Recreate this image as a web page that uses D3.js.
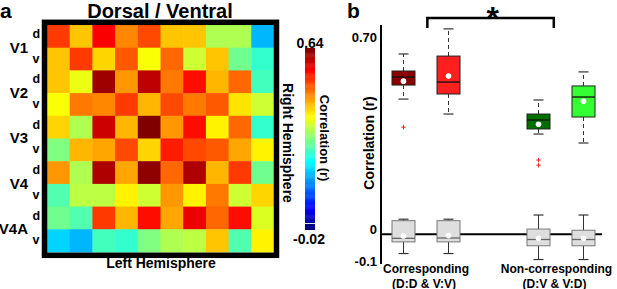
<!DOCTYPE html>
<html>
<head>
<meta charset="utf-8">
<script src="https://cdn.jsdelivr.net/npm/d3@7"></script>
<style>
  html, body { margin: 0; padding: 0; background: #fff; }
  svg { display: block; font-family: "Liberation Sans", Arial, Helvetica, sans-serif; font-weight: bold; }
</style>
</head>
<body>
<svg id="chart" width="617" height="289"></svg>
<script>
// ---------- DATA ----------
const areaLabels = ["V1", "V2", "V3", "V4", "V4A"];
const subLabels = ["d", "v"];
// rows: right hemisphere (V1d ... V4Av), columns: left hemisphere
const heatRows = [
  [0.52, 0.43, 0.56, 0.47, 0.51, 0.43, 0.43, 0.34, 0.34, 0.18],
  [0.43, 0.52, 0.42, 0.50, 0.39, 0.49, 0.36, 0.43, 0.30, 0.26],
  [0.43, 0.38, 0.62, 0.46, 0.60, 0.48, 0.55, 0.44, 0.49, 0.27],
  [0.39, 0.48, 0.47, 0.52, 0.44, 0.51, 0.48, 0.50, 0.41, 0.36],
  [0.42, 0.34, 0.59, 0.44, 0.64, 0.46, 0.55, 0.40, 0.49, 0.26],
  [0.31, 0.44, 0.45, 0.51, 0.42, 0.54, 0.51, 0.50, 0.45, 0.40],
  [0.46, 0.34, 0.61, 0.45, 0.63, 0.49, 0.61, 0.44, 0.52, 0.30],
  [0.28, 0.35, 0.35, 0.40, 0.36, 0.46, 0.40, 0.48, 0.36, 0.42],
  [0.30, 0.28, 0.52, 0.44, 0.55, 0.45, 0.57, 0.49, 0.55, 0.37],
  [0.20, 0.18, 0.27, 0.26, 0.31, 0.34, 0.35, 0.43, 0.28, 0.40]
];
const colorMin = -0.02, colorMax = 0.64;
const colorTickLabels = ["-0.02", "0.64"];

const groupNames = ["Corresponding", "Non-corresponding"];
const groupSubNames = ["(D:D & V:V)", "(D:V & V:D)"];
const groupPos = [1.5, 4.4];
const conditions = ["D:D", "V:V", "D:V", "V:D"];
const condPos = [1, 2, 4, 5];
const condColors = ["#8c0000", "#ff1f1f", "#006e00", "#33ff33"];
// coloured boxes (real pairings)
const boxLow    = [0.452, 0.402, 0.335, 0.305];
const boxQ1     = [0.499, 0.469, 0.352, 0.392];
const boxMedian = [0.526, 0.509, 0.382, 0.459];
const boxQ3     = [0.546, 0.596, 0.402, 0.496];
const boxHigh   = [0.603, 0.687, 0.449, 0.543];
const boxMean   = [0.512, 0.529, 0.368, 0.445];
const boxOutliers = [[0.358], [], [0.248, 0.231], []];
// grey boxes (baseline)
const greyLow    = [-0.065, -0.065, -0.085, -0.085];
const greyQ1     = [-0.026, -0.026, -0.039, -0.039];
const greyMedian = [-0.014, -0.013, -0.018, -0.018];
const greyQ3     = [0.045, 0.045, 0.017, 0.013];
const greyHigh   = [0.050, 0.050, 0.064, 0.064];
const greyMean   = [-0.006, -0.005, -0.014, -0.014];
const yTickValues = [-0.1, 0, 0.7];
const yTickLabels = ["-0.1", "0", "0.70"];
// significance bracket between the two groups
const bracketFrom = 1.53, bracketTo = 4.34, sigLabel = "*";

// ---------- HELPERS ----------
function jet(t) {
  const c = v => Math.max(0, Math.min(1, v));
  const r = c(Math.min(4 * t - 1.5, -4 * t + 4.5));
  const g = c(Math.min(4 * t - 0.5, -4 * t + 3.5));
  const b = c(Math.min(4 * t + 0.5, -4 * t + 2.5));
  return d3.rgb(r * 255, g * 255, b * 255).toString();
}
const colorNorm = d3.scaleLinear().domain([colorMin, colorMax]).range([0, 1]).clamp(true);
const colorOf = v => jet(colorNorm(v));

const svg = d3.select("#chart");

// ---------- PANEL A ----------
svg.append("text").attr("x", 0).attr("y", 18).attr("font-size", 21).text("a");
svg.append("text").attr("x", 160).attr("y", 18).attr("text-anchor", "middle")
  .attr("font-size", 20).text("Dorsal / Ventral");

const hx = d3.scaleBand().domain(d3.range(10)).range([47, 274]);
const hy = d3.scaleBand().domain(d3.range(10)).range([25, 252]);
const cells = [];
heatRows.forEach((row, i) => row.forEach((v, j) => cells.push({ i, j, v })));
svg.append("g").selectAll("rect").data(cells).join("rect")
  .attr("x", d => hx(d.j)).attr("y", d => hy(d.i))
  .attr("width", hx.bandwidth() + 0.5).attr("height", hy.bandwidth() + 0.5)
  .attr("fill", d => colorOf(d.v));
svg.append("rect").attr("x", 44.5).attr("y", 22.3).attr("width", 232).attr("height", 233)
  .attr("fill", "none").attr("stroke", "#000").attr("stroke-width", 5.5);

// row labels
areaLabels.forEach((name, k) => {
  const top = hy(2 * k);
  svg.append("text").attr("x", 28).attr("y", top + 27.5).attr("text-anchor", "end")
    .attr("font-size", 15).text(name);
  subLabels.forEach((s, m) => {
    svg.append("text").attr("x", 32.5).attr("y", top + (m === 0 ? 13 : 37.5))
      .attr("font-size", 12.5).text(s);
  });
});
svg.append("text").attr("x", 161).attr("y", 268).attr("text-anchor", "middle")
  .attr("font-size", 14).text("Left Hemisphere");
svg.append("text").attr("transform", "translate(283,143) rotate(90)")
  .attr("text-anchor", "middle").attr("font-size", 14).text("Right Hemisphere");

// colorbar
const cby = d3.scaleLinear().domain([colorMin, colorMax]).range([230, 48]);
const cbSteps = d3.range(0, 200).map(k => colorMin + (colorMax - colorMin) * (k + 0.5) / 200);
const cbStep = (colorMax - colorMin) / 200;
svg.append("g").selectAll("rect").data(cbSteps.filter(v => cby(v) < 223)).join("rect")
  .attr("x", 305).attr("width", 10)
  .attr("y", d => cby(d + cbStep / 2)).attr("height", d => cby(d - cbStep / 2) - cby(d + cbStep / 2) + 0.4)
  .attr("fill", d => colorOf(d));
svg.append("rect").attr("x", 305).attr("width", 10).attr("y", 224).attr("height", cby(colorMin) - 224)
  .attr("fill", colorOf(colorMin));
svg.append("text").attr("x", 310).attr("y", 48).attr("text-anchor", "middle")
  .attr("font-size", 14).text(colorTickLabels[1]);
svg.append("text").attr("x", 309).attr("y", 244).attr("text-anchor", "middle")
  .attr("font-size", 14).text(colorTickLabels[0]);
svg.append("text").attr("transform", "translate(320,138) rotate(90)")
  .attr("text-anchor", "middle").attr("font-size", 13).text("Correlation (r)");

// ---------- PANEL B ----------
svg.append("text").attr("x", 347).attr("y", 18).attr("font-size", 21).text("b");

const x = d3.scaleLinear().domain([0.5, 5.5]).range([381, 606]);
const y = d3.scaleLinear().domain([-0.1, 0.7]).range([264, 25]);

const yAxis = d3.axisLeft(y).tickValues(yTickValues).tickSize(0).tickPadding(4)
  .tickFormat((d, i) => yTickLabels[i]);
const gy = svg.append("g").attr("transform", "translate(381,0)").call(yAxis);
gy.select(".domain").remove();
gy.selectAll("text").attr("font-size", 13).attr("font-family", null).attr("fill", "#000")
  .attr("dy", (d) => d === 0.7 ? "1.25em" : d === 0 ? "-0.05em" : "0.15em");
svg.append("line").attr("x1", 381).attr("x2", 381).attr("y1", y(0.7)).attr("y2", y(-0.1))
  .attr("stroke", "#000").attr("stroke-width", 2);
svg.append("line").attr("x1", 381).attr("x2", 602).attr("y1", y(0)).attr("y2", y(0))
  .attr("stroke", "#000").attr("stroke-width", 2);

svg.append("text").attr("transform", "translate(374,143) rotate(-90)")
  .attr("text-anchor", "middle").attr("font-size", 14).text("Correlation (r)");

const halfW = 11.5, capW = 5;
function drawBox(cx, low, q1, med, q3, high, mean, opt) {
  const g = svg.append("g");
  const wl = (a, b) => g.append("line").attr("x1", cx).attr("x2", cx).attr("y1", y(a)).attr("y2", y(b))
    .attr("stroke", opt.whisker).attr("stroke-width", 1)
    .attr("stroke-dasharray", opt.dash ? "4,3" : null);
  wl(q3, high); wl(q1, low);
  [low, high].forEach(v => g.append("line").attr("x1", cx - capW).attr("x2", cx + capW)
    .attr("y1", y(v)).attr("y2", y(v)).attr("stroke", opt.whisker).attr("stroke-width", 1.2));
  g.append("rect").attr("x", cx - halfW).attr("width", 2 * halfW)
    .attr("y", y(q3)).attr("height", y(q1) - y(q3))
    .attr("fill", opt.fill).attr("stroke", opt.stroke).attr("stroke-width", 1);
  g.append("line").attr("x1", cx - halfW).attr("x2", cx + halfW).attr("y1", y(med)).attr("y2", y(med))
    .attr("stroke", opt.median).attr("stroke-width", 1.3);
  g.append("circle").attr("cx", cx).attr("cy", y(mean)).attr("r", 2.8).attr("fill", "#fff");
}

condPos.forEach((p, i) => {
  drawBox(x(p), greyLow[i], greyQ1[i], greyMedian[i], greyQ3[i], greyHigh[i], greyMean[i],
    { fill: "#dedede", stroke: "#777", median: "#666", whisker: "#333", dash: false });
  drawBox(x(p), boxLow[i], boxQ1[i], boxMedian[i], boxQ3[i], boxHigh[i], boxMean[i],
    { fill: condColors[i], stroke: "#222", median: "#111", whisker: "#333", dash: true });
  boxOutliers[i].forEach(v => {
    const cx = x(p), cy = y(v);
    svg.append("path").attr("d", `M${cx - 2.2},${cy}H${cx + 2.2}M${cx},${cy - 2.2}V${cy + 2.2}`)
      .attr("stroke", "#e22").attr("stroke-width", 1);
  });
});

// significance bracket
svg.append("path").attr("d", `M${x(bracketFrom)},28V18H${x(bracketTo)}V28`)
  .attr("fill", "none").attr("stroke", "#000").attr("stroke-width", 2.5);
svg.append("text").attr("x", x((bracketFrom + bracketTo) / 2 + 0.05)).attr("y", 29).attr("text-anchor", "middle")
  .attr("font-size", 32).text(sigLabel);

// group labels
groupNames.forEach((g, i) => {
  svg.append("text").attr("x", x(groupPos[i])).attr("y", 273).attr("text-anchor", "middle")
    .attr("font-size", 12).text(g);
  svg.append("text").attr("x", x(groupPos[i]) - 2).attr("y", 287.5).attr("text-anchor", "middle")
    .attr("font-size", 12).text(groupSubNames[i]);
});
</script>
</body>
</html>
